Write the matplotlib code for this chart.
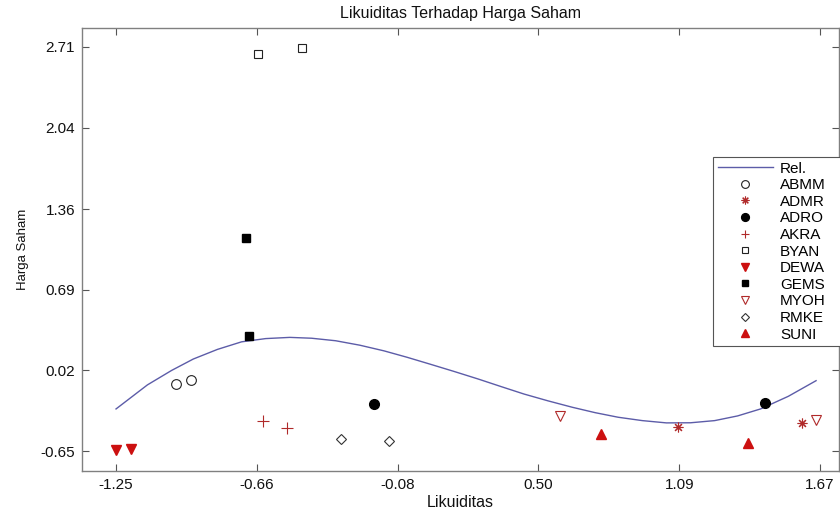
import matplotlib
matplotlib.use('Agg')
import matplotlib.pyplot as plt

plt.rcParams['font.family'] = ['Liberation Sans', 'DejaVu Sans']

# scatter data, one pair of points per company
abmm_x = [-1.00, -0.94]
abmm_y = [-0.09, -0.06]
admr_x = [1.08, 1.59]
admr_y = [-0.45, -0.42]
adro_x = [-0.18, 1.44]
adro_y = [-0.26, -0.25]
akra_x = [-0.64, -0.54]
akra_y = [-0.40, -0.46]
byan_x = [-0.66, -0.48]
byan_y = [2.65, 2.70]
dewa_x = [-1.25, -1.19]
dewa_y = [-0.64, -0.63]
gems_x = [-0.71, -0.70]
gems_y = [1.12, 0.31]
myoh_x = [0.59, 1.65]
myoh_y = [-0.36, -0.39]
rmke_x = [-0.32, -0.12]
rmke_y = [-0.55, -0.57]
suni_x = [0.76, 1.37]
suni_y = [-0.51, -0.58]

# relation curve
rel_x = [-1.25, -1.185, -1.12, -1.02, -0.93, -0.83, -0.73, -0.63, -0.53, -0.44,
         -0.34, -0.24, -0.14, -0.045, 0.05, 0.15, 0.25, 0.345, 0.44, 0.54,
         0.64, 0.735, 0.83, 0.93, 1.03, 1.13, 1.23, 1.325, 1.42, 1.535, 1.65]
rel_y = [-0.30, -0.20, -0.10, 0.02, 0.115, 0.195, 0.258, 0.285, 0.295, 0.288,
         0.267, 0.23, 0.183, 0.13, 0.073, 0.012, -0.051, -0.114, -0.176, -0.233,
         -0.286, -0.331, -0.369, -0.397, -0.416, -0.415, -0.397, -0.358, -0.30, -0.195, -0.065]

xticks = [-1.25, -0.6667, -0.0833, 0.50, 1.0833, 1.6667]
xtick_labels = ['-1.25', '-0.66', '-0.08', '0.50', '1.09', '1.67']
yticks = [-0.65, 0.02, 0.69, 1.36, 2.04, 2.71]
ytick_labels = ['-0.65', '0.02', '0.69', '1.36', '2.04', '2.71']

red = '#cc1010'
red_thin = '#b02a2a'

fig = plt.figure(figsize=(8.4, 5.09), dpi=100)
ax = fig.add_axes([82 / 840, 1 - 471 / 509, (839 - 82) / 840, (471 - 28) / 509])

ax.plot(rel_x, rel_y, color='#5c5ca8', lw=1, label='Rel.')
ax.plot(abmm_x, abmm_y, 'o', ms=7, mfc='none', mec='#222222', mew=0.8, label='ABMM')
ax.plot(admr_x, admr_y, marker=(8, 2, 0), ls='none', ms=7, mec=red_thin, mew=0.8, label='ADMR')
ax.plot(adro_x, adro_y, 'o', ms=7, color='black', label='ADRO')
ax.plot(akra_x, akra_y, '+', ms=8, mec=red_thin, mew=0.8, label='AKRA')
ax.plot(byan_x, byan_y, 's', ms=6, mfc='none', mec='#222222', mew=0.8, label='BYAN')
ax.plot(dewa_x, dewa_y, 'v', ms=7, color=red, label='DEWA')
ax.plot(gems_x, gems_y, 's', ms=6, color='black', label='GEMS')
ax.plot(myoh_x, myoh_y, 'v', ms=7, mfc='none', mec=red_thin, mew=0.8, label='MYOH')
ax.plot(rmke_x, rmke_y, 'D', ms=5, mfc='none', mec='#333333', mew=0.8, label='RMKE')
ax.plot(suni_x, suni_y, '^', ms=7, color=red, label='SUNI')

ax.set_xlim(-1.391, 1.745)
ax.set_ylim(-0.816, 2.8675)
ax.set_xticks(xticks)
ax.set_xticklabels(xtick_labels)
ax.set_yticks(yticks)
ax.set_yticklabels(ytick_labels)
ax.tick_params(direction='in', length=5, width=0.8, color='#555555', labelsize=11,
               labelcolor='#111111', top=True, right=True, pad=5)
for s in ax.spines.values():
    s.set_color('#808080')
    s.set_linewidth(1)

ax.set_title('Likuiditas Terhadap Harga Saham', fontsize=11.5, pad=7, color='#111111')
ax.set_xlabel('Likuiditas', fontsize=11.5, labelpad=2, color='#111111')
ax.set_ylabel('Harga Saham', fontsize=9.5, labelpad=8, color='#111111')

# legend box runs past the right edge of the picture, as in the original
leg = ax.legend(loc='upper left', mode='expand',
                bbox_to_anchor=(713 / 840, 1 - 157 / 509 - 0.01, (846 - 713) / 840, 0.01),
                bbox_transform=fig.transFigure, fontsize=11, frameon=True,
                fancybox=False, edgecolor='#555555', framealpha=1,
                labelspacing=0.17, handlelength=3.6, handletextpad=0.5,
                borderpad=0.3, markerscale=0.8, borderaxespad=0)
leg.get_frame().set_linewidth(0.8)

fig.savefig('out.png', dpi=100)
